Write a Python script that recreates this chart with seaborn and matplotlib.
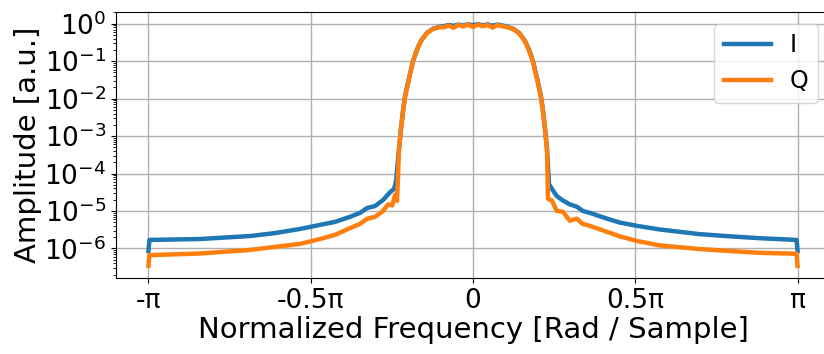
import numpy as np
import pandas as pd
import matplotlib
matplotlib.use("Agg")
import matplotlib.pyplot as plt
import matplotlib.ticker as mticker
import seaborn as sns

# --- DATA (frequency in units of pi, amplitude in a.u.) ---
FREQ_I = [-1.0, -0.997, -0.917, -0.840, -0.763, -0.686, -0.609, -0.532, -0.471, -0.425,
          -0.378, -0.348, -0.326, -0.302, -0.277, -0.255, -0.243, -0.237,
          -0.228, -0.222, -0.215, -0.209, -0.203, -0.194, -0.185, -0.172, -0.160, -0.142, -0.123, -0.102,
          -0.090, -0.075, -0.060, -0.045, -0.030, -0.015, 0.0, 0.015, 0.030, 0.045, 0.060, 0.075, 0.090,
          0.102, 0.123, 0.142, 0.160, 0.172, 0.185, 0.194, 0.203, 0.209, 0.215, 0.222, 0.228,
          0.234, 0.243, 0.258, 0.277, 0.298, 0.320, 0.338, 0.360, 0.406, 0.452, 0.505, 0.575,
          0.698, 0.791, 0.883, 0.997, 1.0]
AMP_I = [8.5e-7, 1.68e-6, 1.73e-6, 1.78e-6, 1.95e-6, 2.14e-6, 2.57e-6, 3.31e-6, 4.25e-6, 5.1e-6,
         7.0e-6, 8.9e-6, 1.2e-5, 1.35e-5, 1.96e-5, 3.2e-5, 3.9e-5, 6.3e-5,
         4.6e-4, 1.55e-3, 5.3e-3, 1.2e-2, 2.1e-2, 4.6e-2, 0.10, 0.21, 0.35, 0.57, 0.74, 0.83,
         0.86, 0.93, 0.88, 0.95, 0.90, 0.97, 0.92, 0.98, 0.91, 0.96, 0.89, 0.95, 0.90,
         0.85, 0.74, 0.57, 0.35, 0.21, 0.10, 0.046, 0.021, 0.012, 5.3e-3, 1.55e-3, 4.6e-4,
         5.3e-5, 3.9e-5, 2.5e-5, 1.9e-5, 1.5e-5, 1.3e-5, 1.0e-5, 8.9e-6, 6.5e-6, 4.9e-6, 4.0e-6, 3.2e-6,
         2.4e-6, 2.1e-6, 1.87e-6, 1.68e-6, 8.5e-7]

FREQ_Q = [-1.0, -0.997, -0.840, -0.686, -0.609, -0.532, -0.471, -0.425, -0.378, -0.348,
          -0.326, -0.302, -0.277, -0.262, -0.249, -0.240, -0.234,
          -0.228, -0.222, -0.215, -0.209, -0.203, -0.194, -0.185, -0.172, -0.160, -0.142, -0.123, -0.102,
          -0.090, -0.075, -0.060, -0.045, -0.030, -0.015, 0.0, 0.015, 0.030, 0.045, 0.060, 0.075, 0.090,
          0.102, 0.123, 0.142, 0.160, 0.172, 0.185, 0.194, 0.203, 0.209, 0.215, 0.222, 0.228,
          0.231, 0.243, 0.258, 0.277, 0.298, 0.320, 0.338, 0.360, 0.406, 0.452, 0.505, 0.575,
          0.698, 0.791, 0.883, 0.997, 1.0]
AMP_Q = [3.4e-7, 6.6e-7, 7.3e-7, 9.1e-7, 1.1e-6, 1.32e-6, 1.78e-6, 2.3e-6, 3.5e-6, 4.5e-6,
         6.2e-6, 6.9e-6, 1.0e-5, 1.5e-5, 1.4e-5, 2.7e-5, 1.85e-5,
         4.3e-4, 1.5e-3, 5.0e-3, 1.15e-2, 2.0e-2, 4.5e-2, 0.10, 0.21, 0.35, 0.56, 0.73, 0.81,
         0.80, 0.90, 0.78, 0.93, 0.85, 0.96, 0.82, 0.95, 0.86, 0.93, 0.79, 0.92, 0.86,
         0.82, 0.73, 0.56, 0.34, 0.20, 0.095, 0.044, 0.020, 0.011, 5.0e-3, 1.45e-3, 4.3e-4,
         2.1e-5, 1.9e-5, 1.0e-5, 9.5e-6, 5.5e-6, 6.2e-6, 4.5e-6, 4.0e-6, 2.9e-6, 2.1e-6, 1.58e-6, 1.2e-6,
         9.6e-7, 8.5e-7, 7.6e-7, 7.2e-7, 3.4e-7]

X_TICKS = [-1.0, -0.5, 0.0, 0.5, 1.0]
X_TICK_LABELS = ['-π', '-0.5π', '0', '0.5π', 'π']


def plot_spectrum():
    df = pd.concat([
        pd.DataFrame({'freq': np.array(FREQ_I) * np.pi, 'amp': AMP_I, 'ch': 'I'}),
        pd.DataFrame({'freq': np.array(FREQ_Q) * np.pi, 'amp': AMP_Q, 'ch': 'Q'}),
    ], ignore_index=True)

    fig = plt.figure(figsize=(8.24, 3.54), dpi=100)
    # axes run slightly past the right edge, like the cropped original
    ax = fig.add_axes([116 / 824, 76 / 354, 714 / 824, 266 / 354])

    sns.lineplot(data=df, x='freq', y='amp', hue='ch', estimator=None, sort=True,
                 palette=['#1f77b4', '#ff7f0e'], linewidth=3.2, ax=ax)

    ax.set_yscale('log')
    ax.yaxis.set_major_locator(mticker.LogLocator(base=10, numticks=20))
    ax.yaxis.set_minor_locator(mticker.LogLocator(base=10, subs=np.arange(2, 10), numticks=20))
    ax.yaxis.set_minor_formatter(mticker.NullFormatter())
    ax.set_xticks(np.array(X_TICKS) * np.pi)
    ax.set_xticklabels(X_TICK_LABELS)
    ax.tick_params(labelsize=19)
    ax.grid(True, which='major', color='#b0b0b0', linewidth=1)

    ax.set_xlabel('Normalized Frequency [Rad / Sample]', fontsize=21, labelpad=2)
    ax.set_ylabel('Amplitude [a.u.]', fontsize=21, labelpad=2)

    ax.legend(loc='upper right', fontsize=17)

    fig.savefig('out.png', dpi=100)


if __name__ == "__main__":
    plot_spectrum()
